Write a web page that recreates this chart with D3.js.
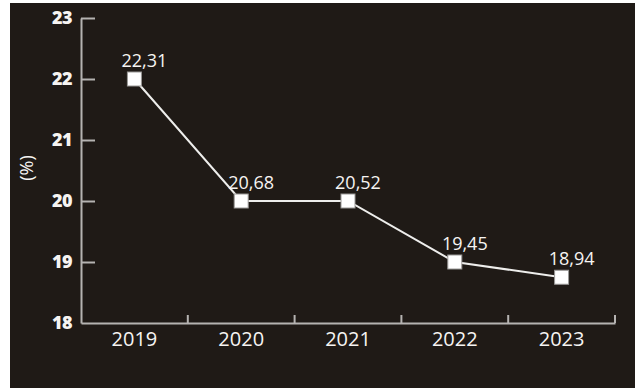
<!DOCTYPE html>
<html lang="es">

<head>
	<meta charset="utf-8">
	<title>Chart</title>
	<script src="https://cdn.jsdelivr.net/npm/d3@7"></script>
	<style type="text/css">
		html,
		body {
			margin: 0;
			padding: 0;
			background: #fff;
		}

		body {
			font-family: 'Open Sans', sans-serif;
		}

		.axis path,
		.axis line {
			stroke: #b5b3b1;
			stroke-width: 2;
		}
	</style>
</head>

<body>
	<script type="text/javascript">
		// data
		var years = ["2019", "2020", "2021", "2022", "2023"];
		var pointLevels = [22, 20, 20, 19, 18.75];   // where the squares sit on the axis
		var valueLabels = ["22,31", "20,68", "20,52", "19,45", "18,94"];
		var yTicks = [18, 19, 20, 21, 22, 23];

		var w = 635;
		var h = 388;

		var svg = d3.select("body")
			.append("svg")
			.attr("width", w)
			.attr("height", h);

		// dark panel
		svg.append("rect")
			.attr("x", 10)
			.attr("y", 3)
			.attr("width", w - 10)
			.attr("height", h - 3)
			.attr("fill", "#1f1a16");

		var scaleX = d3.scaleBand()
			.domain(years)
			.range([81, 615]);

		var scaleY = d3.scaleLinear()
			.domain([18, 23])
			.range([323, 18]);

		// y axis, ticks pointing inward
		var axisY = d3.axisLeft(scaleY)
			.tickValues(yTicks)
			.tickFormat(d3.format("d"))
			.tickSize(-14)
			.tickSizeOuter(0)
			.tickPadding(9);

		var gy = svg.append("g")
			.attr("class", "axis")
			.attr("transform", "translate(81,0)")
			.call(axisY);

		gy.select(".tick:first-of-type line").remove();

		gy.selectAll("text")
			.attr("fill", "#f6f4f2")
			.style("font-family", "'Open Sans', sans-serif")
			.style("font-size", "18px")
			.style("font-weight", "800")
			.style("letter-spacing", "-0.5px");

		// x axis: labels at band centers, ticks at band edges
		var axisX = d3.axisBottom(scaleX)
			.tickSize(0)
			.tickSizeOuter(0)
			.tickPadding(9);

		var gx = svg.append("g")
			.attr("class", "axis")
			.attr("transform", "translate(0,323)")
			.call(axisX);

		gx.selectAll("text")
			.attr("fill", "#f6f4f2")
			.style("font-family", "'Open Sans', sans-serif")
			.style("font-size", "20px");

		gx.selectAll("line.edge")
			.data(years)
			.enter()
			.append("line")
			.attr("class", "edge")
			.attr("x1", (d) => scaleX(d) + scaleX.bandwidth())
			.attr("x2", (d) => scaleX(d) + scaleX.bandwidth())
			.attr("y1", 0)
			.attr("y2", -8);

		// unit label
		svg.append("text")
			.attr("transform", "translate(33,168) rotate(-90)")
			.attr("text-anchor", "middle")
			.attr("fill", "#f6f4f2")
			.style("font-size", "18px")
			.text("(%)");

		var pts = years.map((y, i) => ({
			year: y,
			level: pointLevels[i],
			label: valueLabels[i]
		}));

		var cx = (d) => scaleX(d.year) + scaleX.bandwidth() / 2;

		var line = d3.line()
			.x(cx)
			.y((d) => scaleY(d.level));

		svg.append("path")
			.datum(pts)
			.attr("d", line)
			.attr("fill", "none")
			.attr("stroke", "#eeeeec")
			.attr("stroke-width", 2);

		svg.selectAll("rect.mark")
			.data(pts)
			.enter()
			.append("rect")
			.attr("class", "mark")
			.attr("x", (d) => cx(d) - 7)
			.attr("y", (d) => scaleY(d.level) - 7)
			.attr("width", 14)
			.attr("height", 14)
			.attr("fill", "#ffffff")
			.attr("stroke", "#9a9896")
			.attr("stroke-width", 1);

		svg.selectAll("text.val")
			.data(pts)
			.enter()
			.append("text")
			.attr("class", "val")
			.attr("x", (d) => cx(d) + 10)
			.attr("y", (d) => scaleY(d.level) - 12)
			.attr("text-anchor", "middle")
			.attr("fill", "#f6f4f2")
			.style("font-size", "18px")
			.text((d) => d.label);
	</script>
</body>

</html>
